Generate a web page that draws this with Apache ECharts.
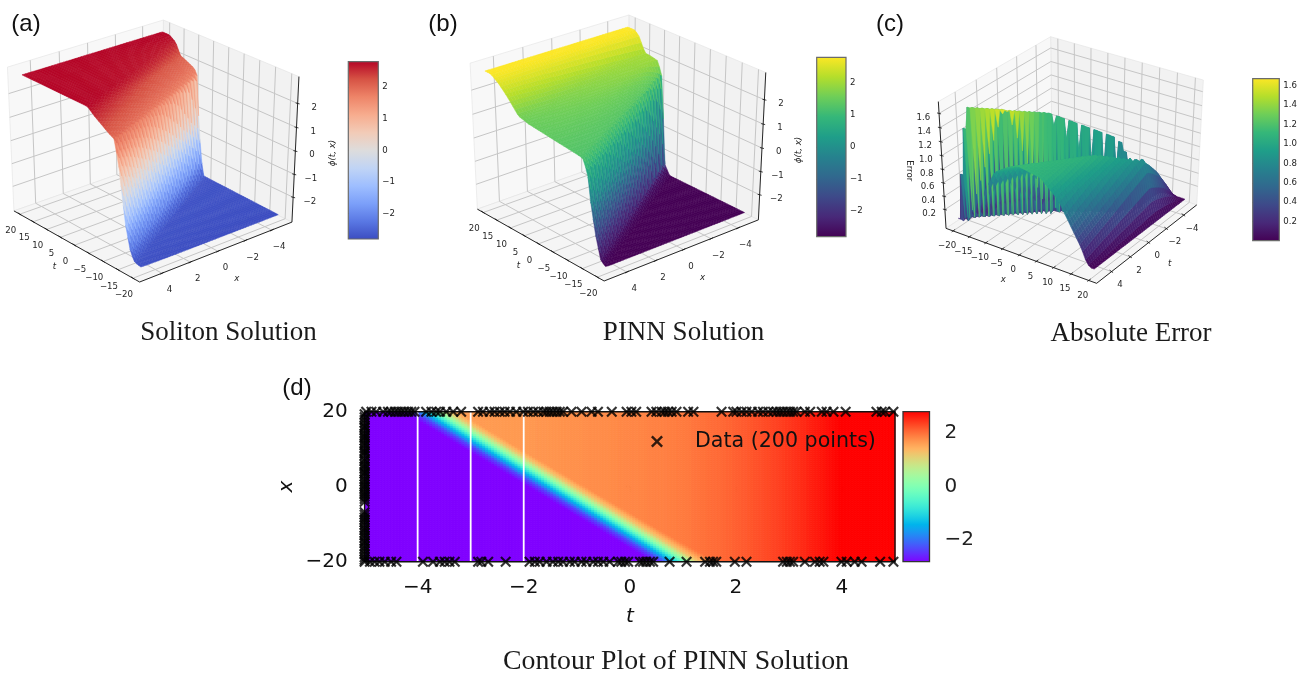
<!DOCTYPE html>
<html><head><meta charset="utf-8">
<style>html,body{margin:0;padding:0;background:#fff}#c{width:1313px;height:678px;filter:blur(0.35px)}</style>
<script src="https://cdn.jsdelivr.net/npm/echarts@6/dist/echarts.min.js"></script>
</head><body><div id="c"></div>
<script>
// ---------- values ----------
const longTicks=[-20,-15,-10,-5,0,5,10,15,20];
const shortTicks=[-4,-2,0,2,4];
const phiTicks=[-2,-1,0,1,2];
const errTicks=[0.2,0.4,0.6,0.8,1.0,1.2,1.4,1.6];
// panel (a): surface along its two edges (long axis value -> phi)
const aNearLong=[-22,-18,-16.6,-15,-13.9,-12.8,-12.2,-11.6,-9.5,-7.3,-5,-2.7,22];
const aNearZ=[-2.8,-2.7,-2.36,-1.32,-0.12,1.07,1.5,2.0,2.15,2.35,2.55,2.8,2.8];
const aFarLong=[-22,5,6,6.8,7.2,7.3,7.4,7.6,8.8,11.5,13.7,15.3,17.5];
const aFarZ=[-2.8,-2.7,-2,-0.7,-0.04,0.5,1.2,1.5,1.83,2.0,2.13,2.6,2.8];
// panel (b)
const bNearLong=[-22,-20.2,-18.5,-16.9,-15.4,-14.4,-12.8,5.2,8.6,12.3,15.1,18,22];
const bNearZ=[-2.8,-2.8,-2.64,-1.73,-0.52,0.7,1.23,1.5,1.62,2.18,2.54,2.8,2.8];
const bFarLong=[-22,5,6.9,7.2,7.5,7.7,8.2,9.6,12,14,16.1,17.5,22];
const bFarZ=[-2.8,-2.8,-2.35,-1.3,-0.27,0.6,1.36,1.93,2,2.03,2.63,2.8,2.8];
const cShort=[-5,-3,-2,-1.4,-1.05,1.17,4.5,5];
const cRidgeX=[11,12,12.5,12,10,-3.5,-17.5,-19.6];
const cRidgeTop=[0.03,0.05,0.3,0.9,1.15,1.5,1.66,0.05];
const cCrestShort=[-5,-4.65,-3.4,-1.8,5];
const cCrestX=[17,16.5,16,15,-1.5];
const cCrestZ=[0.03,0.15,0.65,1.15,1.17];
const cSpikeS=[-1.2,-0.85,0.85,1.2];
const cSpikeF=[0,1,1,0];
const cRiseU=[0,0.3,0.6,1];
const cRiseF=[0.03,0.35,0.8,1];
const cFallX=[-22,-4.6,5,9.8,13.8,18,20,30];
const cFallF=[1,1,0.92,0.73,0.42,0.1,0.02,0.02];
const cEdgeX=[-22,16.5,20];
const cEdgeF=[1,1,0.03];
// panel (d)
const dCentreX=[-20,20];
const dCentreT=[1.0,-3.7];
const dWallS=[-1,-0.55,-0.35,-0.1,0.1,0.3,0.5,1];
const dWallZ=[-2.8,-2.8,-2.3,-1,0.2,1.2,1.7,2.8];
const dRightT=[-5,-2,0,1,2,3,3.5,4,5];
const dRightZ=[1.55,1.65,1.8,1.9,2.1,2.4,2.6,2.8,2.8];
const dLinesT=[-4,-3,-2];
const dTicksT=[-4,-2,0,2,4];
const dTicksX=[-20,0,20];
const dBarTicks=[-2,0,2];
const dataTop=[-4.97,-4.87,-4.78,-4.65,-4.56,-4.5,-4.43,-4.37,-4.31,-4.25,-4.18,-4.12,-4.06,-3.84,-3.74,-3.65,-3.58,-3.46,-3.33,-3.18,-2.86,-2.77,-2.64,-2.55,-2.45,-2.36,-2.26,-2.14,-2.01,-1.92,-1.82,-1.73,-1.63,-1.57,-1.51,-1.45,-1.38,-1.32,-1.26,-1.1,-0.91,-0.72,-0.6,-0.34,-0.06,0.03,0.12,0.41,0.5,0.6,0.66,0.72,0.79,0.88,1.1,1.2,1.73,1.95,2.01,2.11,2.2,2.3,2.42,2.51,2.61,2.7,2.77,2.83,2.89,2.96,3.02,3.08,3.14,3.3,3.4,3.62,3.71,3.84,4.07,4.65,4.75,4.81,4.97];
const dataBottom=[-5,-4.9,-4.81,-4.72,-4.62,-4.5,-4.4,-3.9,-3.71,-3.58,-3.49,-3.4,-3.3,-2.86,-2.8,-2.67,-2.34,-1.89,-1.79,-1.7,-1.57,-1.45,-1.35,-1.26,-1.13,-1.04,-0.91,-0.82,-0.69,-0.6,-0.5,-0.38,-0.22,-0.16,-0.09,-0.03,0.19,0.25,0.31,0.38,0.44,0.75,1.07,1.42,1.51,1.57,1.63,1.98,2.2,2.89,2.96,3.02,3.08,3.3,3.49,3.58,3.65,3.99,4.09,4.24,4.37,4.72,4.97];
const dataLeft=[19.3,18.5,17.8,17,16.2,15.7,15,14.2,13.5,13,12.3,11.6,11,10.2,9.5,9,8.3,7.4,6.8,6,5.4,4.7,4,3.5,2.8,2,1.3,0.6,0,-0.7,-1.4,-2,-2.6,-3.3,-4,-6.8,-7.5,-8.2,-8.8,-9.5,-10.2,-11,-11.6,-12.3,-13,-13.7,-14.5,-15,-15.8,-16.5,-17.2,-18,-18.8,-19.5];
const captions=['Soliton Solution','PINN Solution','Absolute Error','Contour Plot of PINN Solution'];
const panelNames=['(a)','(b)','(c)','(d)'];
// colour maps
const viridis=['#440154','#482878','#3e4989','#31688e','#26828e','#1f9e89','#35b779','#6ece58','#b5de2b','#fde725'];
const coolwarm=['#3b4cc0','#5977e3','#7b9ff9','#9ebeff','#c0d4f5','#dddcdc','#f2cbb7','#f7ac8e','#ee8468','#d65244','#b40426'];

// ---------- helpers ----------
const M='\u2212';
const fmt=v=>String(v).replace('-',M);
function look(xs,ys,v){ if(v<=xs[0])return ys[0]; const n=xs.length; if(v>=xs[n-1])return ys[n-1];
  for(let i=1;i<n;i++) if(v<=xs[i]){const f=(v-xs[i-1])/(xs[i]-xs[i-1]);return ys[i-1]+f*(ys[i]-ys[i-1]);} }
function hex(c){return [parseInt(c.slice(1,3),16),parseInt(c.slice(3,5),16),parseInt(c.slice(5,7),16)];}
function cmap(stops,v){v=Math.max(0,Math.min(1,v));const p=v*(stops.length-1),i=Math.min(stops.length-2,Math.floor(p)),f=p-i;
  const a=hex(stops[i]),b=hex(stops[i+1]);return 'rgb('+[0,1,2].map(k=>Math.round(a[k]+f*(b[k]-a[k]))).join(',')+')';}
function rainbow(v){v=Math.max(0,Math.min(1,v));const r=Math.abs(2*v-.5),g=Math.sin(Math.PI*v),b=Math.cos(Math.PI*v/2);
  return 'rgb('+[Math.min(r,1),g,b].map(k=>Math.round(255*k)).join(',')+')';}
function solve(A,b){const n=b.length;for(let i=0;i<n;i++){let p=i;for(let r=i+1;r<n;r++)if(Math.abs(A[r][i])>Math.abs(A[p][i]))p=r;
  [A[i],A[p]]=[A[p],A[i]];[b[i],b[p]]=[b[p],b[i]];for(let r=i+1;r<n;r++){const f=A[r][i]/A[i][i];for(let c=i;c<n;c++)A[r][c]-=f*A[i][c];b[r]-=f*b[i];}}
  const x=Array(n).fill(0);for(let i=n-1;i>=0;i--){let s=b[i];for(let c=i+1;c<n;c++)s-=A[i][c]*x[c];x[i]=s/A[i][i];}return x;}
function camera(pairs){ // fits the box corners to the picture
  const rows=[],rhs=[];
  pairs.forEach(([X,Y,Z,u,v])=>{u=(u-650)/650;v=(v-340)/650;
    rows.push([X,Y,Z,1,0,0,0,0,-u*X,-u*Y,-u*Z]);rhs.push(u);
    rows.push([0,0,0,0,X,Y,Z,1,-v*X,-v*Y,-v*Z]);rhs.push(v);});
  const n=11,A=[...Array(n)].map(()=>Array(n).fill(0)),b=Array(n).fill(0);
  rows.forEach((r,k)=>{for(let i=0;i<n;i++){b[i]+=r[i]*rhs[k];for(let j=0;j<n;j++)A[i][j]+=r[i]*r[j];}});
  for(let i=0;i<n;i++)A[i][i]+=1e-9;
  const h=solve(A,b);
  return (X,Y,Z)=>{const w=h[8]*X+h[9]*Y+h[10]*Z+1;return [650+650*(h[0]*X+h[1]*Y+h[2]*Z+h[3])/w,340+650*(h[4]*X+h[5]*Y+h[6]*Z+h[7])/w];};
}
const prims=[];
const FONT='DejaVu Sans';
function poly(pts,fill,stroke,w){prims.push({k:'p',pts,fill,stroke:stroke||fill,w:w==null?0.5:w});}
function line(a,b,stroke,w){prims.push({k:'l',a,b,stroke,w});}
function text(p,t,opt){prims.push(Object.assign({k:'t',p,t},opt||{}));}
const add=(p,o)=>[p[0]+o[0],p[1]+o[1]];

function surfacePanel(c){
  const P=camera(c.corners);
  const LIM=[22.2,5.55], zc=(c.zlim[0]+c.zlim[1])/2, zh=(c.zlim[1]-c.zlim[0])/2;
  const N=(l,s,z)=>P(l/LIM[0],s/LIM[1],(z-zc)/zh);
  const e=c.shortEdge; // which long end carries the short axis
  // panes
  const wS=-e;
  poly([P(-1,-1,-1),P(1,-1,-1),P(1,-1,1),P(-1,-1,1)],'#f2f2f2','#e2e2e2',0.6);
  poly([P(wS,-1,-1),P(wS,1,-1),P(wS,1,1),P(wS,-1,1)],'#f8f8f8','#e2e2e2',0.6);
  poly([P(-1,-1,-1),P(1,-1,-1),P(1,1,-1),P(-1,1,-1)],'#f5f5f5','#e2e2e2',0.6);
  const G='#c6c6c6';
  longTicks.forEach(v=>{const n=v/LIM[0];line(P(n,1,-1),P(n,-1,-1),G,1);line(P(n,-1,-1),P(n,-1,1),G,1);});
  shortTicks.forEach(v=>{const n=v/LIM[1];line(P(e,n,-1),P(wS,n,-1),G,1);line(P(wS,n,-1),P(wS,n,1),G,1);});
  c.zTicks.forEach(v=>{const n=(v-zc)/zh;line(P(-1,-1,n),P(1,-1,n),G,1);line(P(wS,-1,n),P(wS,1,n),G,1);});
  // surface samples
  const grid=[];const rows=c.rows,cols=50;
  for(let i=0;i<rows;i++){grid.push([]);for(let j=0;j<cols;j++){const l=-20+40*i/(rows-1),s=-5+10*j/(cols-1);grid[i].push([l,s,c.height(l,s)]);}}
  const quads=[];
  for(let i=0;i<rows-1;i++)for(let j=0;j<cols-1;j++){
    const q=[grid[i][j],grid[i+1][j],grid[i+1][j+1],grid[i][j+1]];
    const mz=(q[0][2]+q[1][2]+q[2][2]+q[3][2])/4,ml=(q[0][0]+q[2][0])/2,ms=(q[0][1]+q[2][1])/2;
    const d=0.61*(ml/LIM[0]*e+ms/LIM[1])+0.5*(mz-zc)/zh;
    quads.push({q,mz,d});
  }
  quads.sort((a,b)=>a.d-b.d);
  quads.forEach(o=>{poly(o.q.map(v=>N(v[0],v[1],v[2])),cmap(c.cmap,(o.mz-c.range[0])/(c.range[1]-c.range[0])));});
  // axes
  const K='#111';
  line(P(-1,1,-1),P(1,1,-1),K,0.9);line(P(e,1,-1),P(e,-1,-1),K,0.9);
  const za=c.zAxis;line(P(za[0],za[1],-1),P(za[0],za[1],1),K,0.9);
  const tf={font:'8.6px '+FONT,fill:'#262626'};
  longTicks.forEach(v=>{const p=N(v,LIM[1],c.zlim[0]);line(add(p,c.longTick[0]),add(p,c.longTick[1]),K,0.8);text(add(p,c.longLbl),fmt(v),tf);});
  shortTicks.forEach(v=>{const p=P(e,v/LIM[1],-1);line(add(p,c.shortTick[0]),add(p,c.shortTick[1]),K,0.8);text(add(p,c.shortLbl),fmt(v),tf);});
  c.zTicks.forEach(v=>{const p=P(za[0],za[1],(v-zc)/zh);line(add(p,c.zTick[0]),add(p,c.zTick[1]),K,0.8);text(add(p,c.zLbl),c.zFmt(v),tf);});
  const nf='italic 8.6px '+FONT;
  text(add(P(0,1,-1),c.longNameO),c.longName,{font:nf,fill:'#262626'});
  text(add(P(e,0,-1),c.shortNameO),c.shortName,{font:nf,fill:'#262626'});
  text(add(P(za[0],za[1],0),c.zNameO),c.zName,{font:c.zNameFont||nf,fill:'#262626',rot:c.zRot});
}
const edgeHeight=(nl,nz,fl,fz)=>(l,s)=>{const w=(s+5)/10;const xs=nl.map((v,i)=>fl[i]+w*(v-fl[i]));const ys=nz.map((v,i)=>fz[i]+w*(v-fz[i]));
  return look(xs,ys,l);};
function errorHeight(x,t){
  const xr=look(cShort,cRidgeX,t),pk=look(cShort,cRidgeTop,t),s=x-xr;
  const crest=look(cCrestShort,cCrestX,t),H=look(cCrestShort,cCrestZ,t);
  if(s<-1.2) return 0.02;
  const spike=look(cSpikeS,cSpikeF,s)*pk;
  const u=(x-(xr+1.2))/Math.max(0.5,crest-xr-1.2);
  const rise=look(cRiseU,cRiseF,u);
  const fall=look(cFallX,cFallF,x-(5-t)*0.85)*look(cEdgeX,cEdgeF,x);
  return Math.max(spike,Math.max(0.02,H*rise*fall));
}
const abTicks={longTick:[[1.5,1],[-2,-1.5]],shortTick:[[-1.5,1],[2,-1]],zTick:[[-2,-0.5],[2,0.5]],longLbl:[-9,16.5],shortLbl:[7.5,17],zLbl:[16.7,4],
  longName:'t',shortName:'x',longNameO:[-20,22],shortNameO:[19,28],zNameO:[37,2],zName:'\u03d5(t, x)',zRot:90,shortEdge:-1,zAxis:[-1,-1],zTicks:phiTicks,zFmt:fmt,zlim:[-3.1,3.1],range:[-2.8,2.8]};
surfacePanel(Object.assign({},abTicks,{rows:57,cmap:coolwarm,height:edgeHeight(aNearLong,aNearZ,aFarLong,aFarZ),
  corners:[[-1,1,-1,139.5,282],[1,1,-1,14,211],[-1,-1,-1,292,222],[1,1,1,7.5,67],[1,-1,1,163.3,20],[-1,-1,1,299,76.7]]}));
surfacePanel(Object.assign({},abTicks,{rows:52,cmap:viridis,height:edgeHeight(bNearLong,bNearZ,bFarLong,bFarZ),
  corners:[[-1,1,-1,604.3,281],[1,1,-1,477.3,209],[-1,-1,-1,758.3,220],[1,1,1,470,63.3],[1,-1,1,629,15],[-1,-1,1,765.7,72.3]]}));
surfacePanel({rows:50,cmap:viridis,height:errorHeight,zlim:[-0.088,1.764],range:[0.004,1.672],shortEdge:1,zAxis:[-1,1],zTicks:errTicks,zFmt:v=>v.toFixed(1),
  longTick:[[-1.5,1],[2,-1.5]],shortTick:[[1.5,1],[-2,-1.5]],zTick:[[2,0.5],[-2,-0.5]],longLbl:[-6,15],shortLbl:[8.5,13.5],zLbl:[-15.7,4],
  longName:'x',shortName:'t',longNameO:[-16,25],shortNameO:[21,21],zNameO:[-33,4],zName:'Error',zRot:-90,zNameFont:'8.6px '+FONT,
  corners:[[1,1,-1,1096.7,283.3],[-1,1,-1,946,228.3],[1,-1,-1,1196.7,205],[-1,1,1,938.3,101.7],[-1,-1,1,1050.7,36.7],[1,-1,1,1203.3,80]]});

// panel (d) cells
function heat(t,x){const s=t-look(dCentreX,dCentreT,x);return Math.min(look(dWallS,dWallZ,s),look(dRightT,dRightZ,t));}
const heatCells=[];const NT=180,NX=75;
for(let i=0;i<NT;i++)for(let j=0;j<NX;j++){const t=-5+10*(i+.5)/NT,x=-20+40*(j+.5)/NX;heatCells.push([t,x,heat(t,x)]);}
const points=[...dataTop.map(t=>[t,20]),...dataBottom.map(t=>[t,-20]),...dataLeft.map(x=>[-5,x])];
const CROSS='path://M1.4 0 L5 3.6 L8.6 0 L10 1.4 L6.4 5 L10 8.6 L8.6 10 L5 6.4 L1.4 10 L0 8.6 L3.6 5 L0 1.4 Z';

function barGrid(left,top,width,height){return {left,top,width,height,show:false};}
const bars=[
 {g:barGrid(348.3,61.7,30,177.3),min:-2.8,max:2.8,ticks:phiTicks,stops:coolwarm,f:fmt,size:8.6},
 {g:barGrid(816.7,57.3,29.3,179.4),min:-2.8,max:2.8,ticks:phiTicks,stops:viridis,f:fmt,size:8.6},
 {g:barGrid(1252.7,78.7,26.6,162),min:0.004,max:1.672,ticks:errTicks,stops:viridis,f:v=>(+v).toFixed(1),size:8.6},
 {g:barGrid(903,411.7,26.5,150),min:-2.8,max:2.8,ticks:dBarTicks,stops:null,f:fmt,size:20,big:true}
];
const rainbowStops=[...Array(33)].map((_,i)=>rainbow(i/32));

const grids=[{left:0,top:0,width:1313,height:678,show:false},{left:364.6,top:411.7,width:530.4,height:150,show:false}];
const xAxes=[{gridIndex:0,type:'value',min:0,max:1313,show:false},
 {gridIndex:1,type:'value',min:-5,max:5,name:'t',nameLocation:'middle',nameGap:45,nameTextStyle:{fontFamily:FONT,fontStyle:'italic',fontSize:20,color:'#111'},
  axisLine:{show:false},splitLine:{show:false},axisTick:{length:5,lineStyle:{color:'#000',width:1.4},customValues:dTicksT},
  axisLabel:{customValues:dTicksT,fontFamily:FONT,fontSize:20,color:'#111',margin:16,formatter:fmt}}];
const yAxes=[{gridIndex:0,type:'value',min:0,max:678,inverse:true,show:false},
 {gridIndex:1,type:'value',min:-20,max:20,name:'x',nameLocation:'middle',nameGap:68,nameRotate:90,nameTextStyle:{fontFamily:FONT,fontStyle:'italic',fontSize:20,color:'#111'},
  axisLine:{show:false},splitLine:{show:false},axisTick:{length:5,lineStyle:{color:'#000',width:1.4},customValues:dTicksX},
  axisLabel:{customValues:dTicksX,fontFamily:FONT,fontSize:20,color:'#111',margin:17,formatter:fmt}}];
const series=[];
series.push({type:'custom',xAxisIndex:0,yAxisIndex:0,silent:true,animation:false,clip:false,progressive:0,
  data:prims.map(()=>[0,0]),
  renderItem(params,api){const p=prims[params.dataIndex];const o=q=>api.coord(q);
    if(p.k==='p')return {type:'polygon',shape:{points:p.pts.map(o)},style:{fill:p.fill,stroke:p.stroke,lineWidth:p.w}};
    if(p.k==='l'){const a=o(p.a),b=o(p.b);return {type:'line',shape:{x1:a[0],y1:a[1],x2:b[0],y2:b[1]},style:{stroke:p.stroke,lineWidth:p.w}};}
    const c=o(p.p);return {type:'text',x:c[0],y:c[1],rotation:(p.rot||0)*Math.PI/180,style:{text:p.t,font:p.font,fill:p.fill,align:'center',verticalAlign:'middle'}};
  }});
series.push({type:'custom',xAxisIndex:1,yAxisIndex:1,silent:true,animation:false,clip:true,progressive:0,data:heatCells,
  renderItem(params,api){const a=api.coord([api.value(0)-5/NT,api.value(1)+20/NX]),b=api.coord([api.value(0)+5/NT,api.value(1)-20/NX]);
    const col=rainbow((api.value(2)+2.8)/5.6);
    return {type:'rect',shape:{x:a[0],y:a[1],width:b[0]-a[0],height:b[1]-a[1]},style:{fill:col,stroke:col,lineWidth:0.8}};}});
dLinesT.forEach(t=>series.push({type:'line',xAxisIndex:1,yAxisIndex:1,silent:true,animation:false,showSymbol:false,symbol:'none',
  data:[[t,-20],[t,20]],lineStyle:{color:'#fff',width:1.8},z:3}));
series.push({type:'custom',xAxisIndex:1,yAxisIndex:1,silent:true,animation:false,clip:false,data:[[-5,-20,5,20]],z:4,
  renderItem(params,api){const a=api.coord([api.value(0),api.value(3)]),b=api.coord([api.value(2),api.value(1)]);
    return {type:'rect',shape:{x:a[0],y:a[1],width:b[0]-a[0],height:b[1]-a[1]},style:{fill:'none',stroke:'#111',lineWidth:1.4}};}});
series.push({type:'scatter',name:'Data (200 points)',xAxisIndex:1,yAxisIndex:1,silent:true,animation:false,clip:false,data:points,symbol:CROSS,symbolSize:11,itemStyle:{color:'#000'},z:5});
bars.forEach((b,i)=>{const gi=grids.length;grids.push(b.g);
  xAxes.push({gridIndex:gi,type:'value',min:0,max:1,show:false});
  yAxes.push({gridIndex:gi,type:'value',min:b.min,max:b.max,position:'right',axisLine:{show:false},splitLine:{show:false},
    axisTick:{length:b.big?7:3.5,lineStyle:{color:'#111',width:b.big?1.4:0.8},customValues:b.ticks},
    axisLabel:{customValues:b.ticks,fontFamily:FONT,fontSize:b.size,color:'#222',margin:b.big?15:4,formatter:b.f}});
  const stops=(b.stops||rainbowStops);
  series.push({type:'custom',xAxisIndex:gi,yAxisIndex:gi,silent:true,animation:false,clip:false,data:[[0,b.min,1,b.max]],
    renderItem(params,api){const p=api.coord([api.value(0),api.value(3)]),q=api.coord([api.value(2),api.value(1)]);
      return {type:'rect',shape:{x:p[0],y:p[1],width:q[0]-p[0],height:q[1]-p[1]},
        style:{fill:new echarts.graphic.LinearGradient(0,1,0,0,stops.map((c,k)=>({offset:k/(stops.length-1),color:c}))),stroke:b.big?'#333':'#6b6b6b',lineWidth:b.big?1.3:1.2}};}});
});
const capPos=[[228.5,319],[683.5,319],[1131,320],[676,648]];
const namePos=[[26,12],[443,12],[890,12],[297,376]];
const titles=[...captions.map((t,i)=>({text:t,left:capPos[i][0],top:capPos[i][1],textAlign:'center',padding:0,textStyle:{fontFamily:'Liberation Serif',fontWeight:'normal',fontSize:i===3?27.8:27,color:'#1a1a1a'}})),
 ...panelNames.map((t,i)=>({text:t,left:namePos[i][0],top:namePos[i][1],textAlign:'center',padding:0,textStyle:{fontFamily:'Liberation Sans',fontWeight:'normal',fontSize:24,color:'#111'}}))];
const chart=echarts.init(document.getElementById('c'),null,{renderer:'canvas'});
chart.setOption({animation:false,backgroundColor:'#fff',title:titles,grid:grids,xAxis:xAxes,yAxis:yAxes,series,
  legend:{show:true,left:651,top:431,icon:CROSS,itemWidth:12,itemHeight:12,selectedMode:false,data:['Data (200 points)'],backgroundColor:'transparent',padding:0,
    textStyle:{fontFamily:FONT,fontSize:20.6,color:'#111',padding:[0,0,0,27]}}});
</script></body></html>
